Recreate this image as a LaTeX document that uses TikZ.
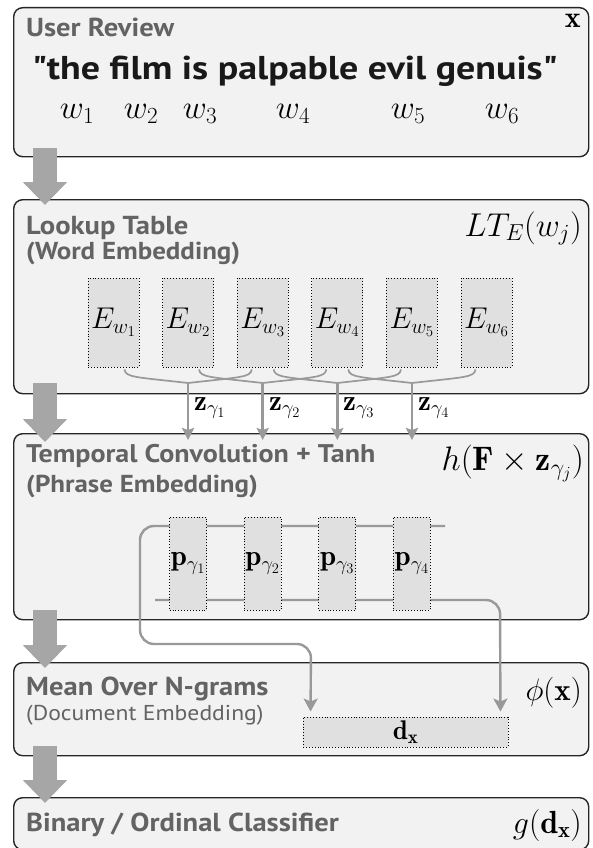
\documentclass[tikz,border=0pt]{standalone}
\usepackage{fix-cm}
\usepackage{amsmath,amssymb}
\usepackage{fontspec}
\setsansfont{PT Sans}[FakeStretch=1.1]
\newfontfamily\quotefont{PT Sans}[Ligatures=TeXOff]
\usepackage{xcolor}
\usepackage{tikz}
\usetikzlibrary{arrows.meta}
\definecolor{panelfill}{HTML}{F2F2F2}
\definecolor{panelline}{HTML}{262626}
\definecolor{boxfill}{HTML}{E0E0E0}
\definecolor{conn}{HTML}{999999}
\definecolor{arrowgray}{HTML}{A6A6A6}
\definecolor{titlegray}{HTML}{636363}
\tikzset{
  panel/.style={draw=panelline,line width=1.4pt,fill=panelfill,rounded corners=9pt,anchor=north west,minimum width=575pt,inner sep=0pt},
  title/.style={anchor=base west,inner sep=0pt,text=titlegray,font=\sffamily\bfseries\fontsize{26}{30}\selectfont},
  subtitle/.style={title,font=\sffamily\bfseries\fontsize{24.5}{28}\selectfont},
  mathlbl/.style={anchor=base east,inner sep=0pt,font=\fontsize{33}{37}\selectfont},
  wordlbl/.style={anchor=base,inner sep=0pt,font=\fontsize{33}{37}\selectfont},
  embbox/.style={draw=black,dotted,line width=0.9pt,fill=boxfill,inner sep=0pt},
  branch/.style={draw=conn,line width=1.7pt},
  zarrow/.style={draw=conn,line width=2.6pt,-{Stealth[width=12pt,length=12pt,inset=2pt]}},
  zlbl/.style={anchor=base west,inner sep=0pt,font=\fontsize{29}{32}\selectfont},
  poolarrow/.style={draw=conn,line width=2.4pt,rounded corners=14pt,-{Stealth[width=14pt,length=13pt,inset=3pt]}},
  bigarrow/.style={draw=arrowgray,line width=24pt,-{Triangle[width=43pt,length=23pt]}}
}
\begin{document}
\begin{tikzpicture}[x=1pt,y=-1pt]
  \useasboundingbox (0,0) rectangle (592,848);
  % panels
  \node[panel,minimum height=149pt] (review) at (13,7) {};
  \node[panel,minimum height=194pt] (lookup) at (13,199) {};
  \node[panel,minimum height=186pt] (conv) at (13,433) {};
  \node[panel,minimum height=93pt] (mean) at (13,662) {};
  \node[panel,minimum height=52pt] (classifier) at (13,797) {};
  % user review
  \node[title] (review-title) at (26,37) {User Review};
  \node[mathlbl,font=\fontsize{30}{33}\selectfont] (review-x) at (581,28) {$\mathbf{x}$};
  \node[anchor=base,inner sep=0pt,text=black!90,font=\quotefont\bfseries\fontsize{33}{36}\selectfont] (quote) at (295,80) {\scalebox{1.15}[1]{"the film is palpable evil genuis"}};
  \node[wordlbl] (w1) at (77,119) {$w_1$};
  \node[wordlbl] (w2) at (141,119) {$w_2$};
  \node[wordlbl] (w3) at (200,119) {$w_3$};
  \node[wordlbl] (w4) at (293,119) {$w_4$};
  \node[wordlbl] (w5) at (408,119) {$w_5$};
  \node[wordlbl] (w6) at (502,119) {$w_6$};
  % lookup table
  \node[title] (lookup-title) at (26,234) {Lookup Table};
  \node[subtitle] (lookup-sub) at (26,259) {(Word Embedding)};
  \node[mathlbl] (lookup-f) at (582,236) {$LT_E(w_j)$};
  \node[embbox,minimum width=51pt,minimum height=89pt,font=\fontsize{30}{34}\selectfont] (e1) at (113.5,322.5) {$E_{w_1}$};
  \node[embbox,minimum width=51pt,minimum height=89pt,font=\fontsize{30}{34}\selectfont] (e2) at (188.1,322.5) {$E_{w_2}$};
  \node[embbox,minimum width=51pt,minimum height=89pt,font=\fontsize{30}{34}\selectfont] (e3) at (262.7,322.5) {$E_{w_3}$};
  \node[embbox,minimum width=51pt,minimum height=89pt,font=\fontsize{30}{34}\selectfont] (e4) at (337.3,322.5) {$E_{w_4}$};
  \node[embbox,minimum width=51pt,minimum height=89pt,font=\fontsize{30}{34}\selectfont] (e5) at (411.9,322.5) {$E_{w_5}$};
  \node[embbox,minimum width=51pt,minimum height=89pt,font=\fontsize{30}{34}\selectfont] (e6) at (486.5,322.5) {$E_{w_6}$};
  \coordinate (j1) at (188.1,383);
  \coordinate (j2) at (262.7,383);
  \coordinate (j3) at (337.3,383);
  \coordinate (j4) at (411.9,383);
  \coordinate (t1) at (188.1,440);
  \coordinate (t2) at (262.7,440);
  \coordinate (t3) at (337.3,440);
  \coordinate (t4) at (411.9,440);
  \draw[branch] ([xshift=11pt,yshift=-2pt]e1.south) .. controls +(1,8) and +(-53,-6) .. (j1);
  \draw[branch] ([xshift=-11pt,yshift=-2pt]e3.south) .. controls +(-1,8) and +(53,-6) .. (j1);
  \draw[branch] ([xshift=11pt,yshift=-2pt]e2.south) .. controls +(1,8) and +(-53,-6) .. (j2);
  \draw[branch] ([xshift=-11pt,yshift=-2pt]e4.south) .. controls +(-1,8) and +(53,-6) .. (j2);
  \draw[branch] ([xshift=11pt,yshift=-2pt]e3.south) .. controls +(1,8) and +(-53,-6) .. (j3);
  \draw[branch] ([xshift=-11pt,yshift=-2pt]e5.south) .. controls +(-1,8) and +(53,-6) .. (j3);
  \draw[branch] ([xshift=11pt,yshift=-2pt]e4.south) .. controls +(1,8) and +(-53,-6) .. (j4);
  \draw[branch] ([xshift=-11pt,yshift=-2pt]e6.south) .. controls +(-1,8) and +(53,-6) .. (j4);
  \draw[zarrow] (j1) -- (t1);
  \draw[zarrow] (j2) -- (t2);
  \draw[zarrow] (j3) -- (t3);
  \draw[zarrow] (j4) -- (t4);
  \node[zlbl] (z1) at (194,410) {$\mathbf{z}_{\gamma_1}$};
  \node[zlbl] (z2) at (269,410) {$\mathbf{z}_{\gamma_2}$};
  \node[zlbl] (z3) at (343,410) {$\mathbf{z}_{\gamma_3}$};
  \node[zlbl] (z4) at (418,410) {$\mathbf{z}_{\gamma_4}$};
  % temporal convolution
  \node[title,font=\sffamily\bfseries\fontsize{25.5}{30}\selectfont] (conv-title) at (26,462) {Temporal Convolution + Tanh};
  \node[subtitle] (conv-sub) at (26,492) {(Phrase Embedding)};
  \node[mathlbl,font=\fontsize{34}{38}\selectfont] (conv-f) at (584,470) {$h(\mathbf{F}\times\mathbf{z}_{\gamma_j})$};
  % mean over n-grams
  \node[title] (mean-title) at (26,695) {Mean Over N-grams};
  \node[title,font=\sffamily\fontsize{21.5}{26}\selectfont] (mean-sub) at (26,720) {(Document Embedding)};
  \node[mathlbl,font=\fontsize{31}{35}\selectfont] (mean-f) at (582,700) {$\phi(\mathbf{x})$};
  \node[embbox,minimum width=205pt,minimum height=30pt,font=\fontsize{27}{31}\selectfont] (dx) at (405.5,732) {$\mathbf{d}_{\mathbf{x}}$};
  \coordinate (pool-top) at (445,526);
  \coordinate (pool-bot) at (155,600);
  \draw[poolarrow] (pool-top) -- (140,526) -- (140,644) -- (311,644) -- ([xshift=8pt,yshift=5pt]dx.north west);
  \draw[poolarrow] (pool-bot) -- (500,600) -- ([xshift=-8pt,yshift=5pt]dx.north east);
  \node[embbox,minimum width=37pt,minimum height=93pt,font=\fontsize{29}{32}\selectfont] (p1) at (188.1,563.5) {$\mathbf{p}_{\gamma_1}$};
  \node[embbox,minimum width=37pt,minimum height=93pt,font=\fontsize{29}{32}\selectfont] (p2) at (262.7,563.5) {$\mathbf{p}_{\gamma_2}$};
  \node[embbox,minimum width=37pt,minimum height=93pt,font=\fontsize{29}{32}\selectfont] (p3) at (337.3,563.5) {$\mathbf{p}_{\gamma_3}$};
  \node[embbox,minimum width=37pt,minimum height=93pt,font=\fontsize{29}{32}\selectfont] (p4) at (411.9,563.5) {$\mathbf{p}_{\gamma_4}$};
  % classifier
  \node[title] (classifier-title) at (26,831) {Binary / Ordinal Classifier};
  \node[mathlbl,font=\fontsize{32}{36}\selectfont] (classifier-f) at (582,833) {$g(\mathbf{d}_{\mathbf{x}})$};
  % flow between panels
  \coordinate (review-out) at (45,148);
  \coordinate (lookup-in) at (45,205);
  \coordinate (lookup-out) at (45,383);
  \coordinate (conv-in) at (45,442);
  \coordinate (conv-out) at (45,610);
  \coordinate (mean-in) at (45,668);
  \coordinate (mean-out) at (45,746);
  \coordinate (classifier-in) at (45,803);
  \draw[bigarrow] (review-out) -- (lookup-in);
  \draw[bigarrow] (lookup-out) -- (conv-in);
  \draw[bigarrow] (conv-out) -- (mean-in);
  \draw[bigarrow] (mean-out) -- (classifier-in);
\end{tikzpicture}
\end{document}
